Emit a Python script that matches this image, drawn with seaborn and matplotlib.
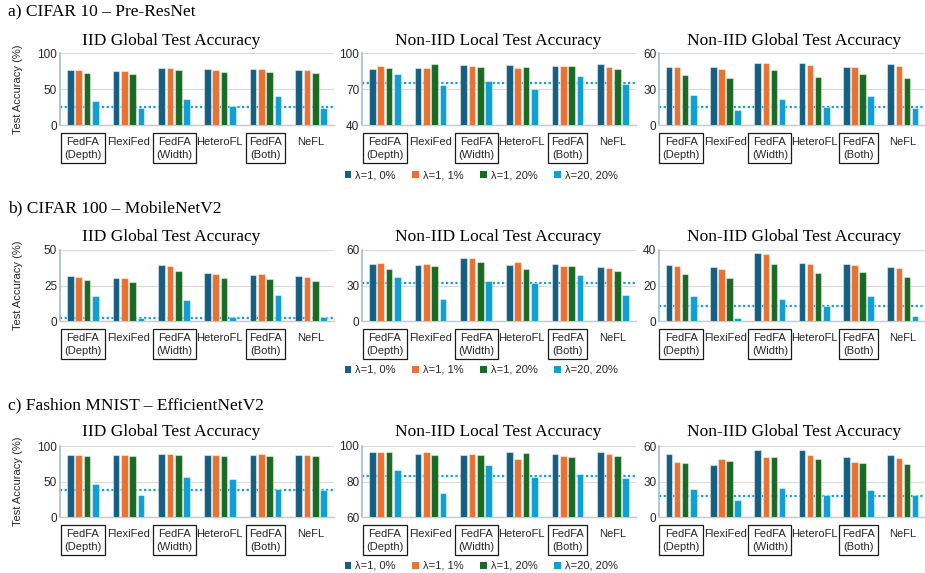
import matplotlib
matplotlib.use("Agg")
import matplotlib.pyplot as plt
from matplotlib.patches import Patch
from matplotlib.ticker import AutoMinorLocator
import seaborn as sns
import pandas as pd

# ---------------- data ----------------
categories = ["FedFA\n(Depth)", "FlexiFed", "FedFA\n(Width)", "HeteroFL", "FedFA\n(Both)", "NeFL"]
boxed = ["FedFA\n(Depth)", "FedFA\n(Width)", "FedFA\n(Both)"]
series = ["λ=1, 0%", "λ=1, 1%", "λ=1, 20%", "λ=20, 20%"]
colors = ["#156082", "#E97132", "#196B24", "#0F9ED5"]

row_titles = ["a) CIFAR 10 – Pre-ResNet", "b) CIFAR 100 – MobileNetV2", "c) Fashion MNIST – EfficientNetV2"]
panel_titles = ["IID Global Test Accuracy", "Non-IID Local Test Accuracy", "Non-IID Global Test Accuracy"]
y_label = "Test Accuracy (%)"

# rows: series (λ=1 0%, λ=1 1%, λ=1 20%, λ=20 20%), columns: categories
a_iid = [[76.5, 75.6, 79.3, 77.9, 77.4, 77.0],
         [76.5, 75.6, 79.3, 76.5, 77.4, 77.0],
         [72.8, 71.4, 76.5, 73.3, 74.2, 71.9],
         [33.6, 24.0, 35.5, 25.8, 40.6, 23.0]]
a_local = [[86.7, 87.8, 90.3, 89.7, 89.4, 90.6],
           [88.9, 87.8, 89.4, 87.8, 89.4, 88.3],
           [87.8, 90.8, 88.6, 88.6, 89.4, 87.0],
           [82.5, 73.4, 77.0, 70.4, 81.2, 74.0]]
a_global = [[48.6, 48.3, 51.7, 51.4, 48.6, 50.8],
            [48.6, 46.7, 51.4, 50.3, 48.1, 49.4],
            [41.4, 39.5, 46.1, 40.3, 42.5, 39.2],
            [25.4, 12.4, 21.3, 14.6, 24.3, 14.4]]
b_iid = [[31.5, 30.5, 39.2, 33.6, 32.4, 31.7],
         [31.0, 30.5, 38.7, 33.1, 32.9, 31.2],
         [28.9, 27.5, 35.2, 30.0, 29.6, 27.9],
         [17.4, 1.9, 14.6, 2.6, 18.3, 2.6]]
b_local = [[48.2, 47.3, 53.2, 47.3, 48.2, 45.6],
           [48.7, 48.2, 53.0, 49.6, 46.5, 44.5],
           [44.2, 46.2, 50.1, 43.7, 46.2, 42.3],
           [37.5, 18.6, 34.1, 31.8, 38.9, 22.0]]
b_global = [[31.3, 30.2, 38.1, 32.6, 31.9, 30.2],
            [31.0, 29.5, 37.5, 32.1, 31.5, 29.8],
            [26.3, 24.2, 32.3, 26.8, 27.6, 25.0],
            [14.0, 1.5, 12.4, 8.4, 14.0, 2.8]]
c_iid = [[87.3, 87.3, 88.3, 86.9, 87.8, 87.3],
         [87.3, 87.3, 88.3, 86.9, 88.3, 87.3],
         [86.4, 86.4, 86.9, 85.4, 86.4, 85.9],
         [46.0, 31.5, 56.3, 53.0, 39.0, 38.5]]
c_local = [[96.4, 95.5, 95.1, 96.6, 95.5, 96.4],
           [96.4, 96.8, 95.7, 92.5, 94.6, 95.5],
           [96.8, 95.1, 95.1, 95.9, 94.0, 94.6],
           [86.3, 73.3, 89.3, 82.5, 84.4, 81.8]]
c_global = [[53.0, 43.7, 56.9, 56.9, 51.0, 52.7],
            [46.8, 49.0, 50.4, 52.1, 46.8, 49.6],
            [45.6, 47.3, 50.4, 49.3, 45.4, 44.5],
            [23.9, 14.6, 24.8, 18.3, 23.1, 18.3]]

panel_values = [[a_iid, a_local, a_global],
                [b_iid, b_local, b_global],
                [c_iid, c_local, c_global]]
baselines = [[25.3, 75.4, 14.6],
             [2.1, 31.8, 8.3],
             [37.6, 82.9, 17.7]]
y_ticks = [[[0, 50, 100], [40, 70, 100], [0, 30, 60]],
           [[0, 25, 50], [0, 30, 60], [0, 20, 40]],
           [[0, 50, 100], [60, 80, 100], [0, 30, 60]]]

# ---------------- style ----------------
sns.set_style("white")
plt.rcParams["font.family"] = ["Liberation Sans", "DejaVu Sans"]
SERIF = ["Liberation Serif", "DejaVu Serif"]

W, H = 925, 573
fig = plt.figure(figsize=(W / 100, H / 100), dpi=100)

col_left = [60, 362, 659]
col_width = [274, 274, 266]
row_top = [53, 250, 446]
row_bottom = [125, 321, 517]
row_title_y = [12, 208, 405]
panel_title_y = [41, 237, 432]
panel_title_x = [171, 498, 794]
legend_y = [175, 370, 566]

for r in range(3):
    fig.text(8 / W, 1 - row_title_y[r] / H, row_titles[r], family=SERIF,
             fontsize=12.5, ha="left", va="center", color="black")
    for c in range(3):
        l, w = col_left[c], col_width[c]
        t, b = row_top[r], row_bottom[r]
        ax = fig.add_axes([l / W, 1 - b / H, w / W, (b - t) / H])
        vals = panel_values[r][c]
        rows = []
        for si, s in enumerate(series):
            for ci, cat in enumerate(categories):
                rows.append({"Method": cat, "Setting": s, "Accuracy": vals[si][ci]})
        df = pd.DataFrame(rows)
        sns.barplot(data=df, x="Method", y="Accuracy", hue="Setting",
                    order=categories, hue_order=series, palette=colors,
                    saturation=1, width=0.73, gap=0.2, legend=False,
                    edgecolor=(1, 1, 1, 0.45), linewidth=0.8, ax=ax, zorder=3)
        ticks = y_ticks[r][c]
        ax.set_ylim(ticks[0], ticks[-1])
        ax.set_xlim(-0.5, len(categories) - 0.5)
        ax.set_yticks(ticks)
        ax.yaxis.set_minor_locator(AutoMinorLocator(5))
        ax.yaxis.grid(True, which="major", color="#d9d9d9", lw=0.8, zorder=0)
        ax.set_axisbelow(True)
        ax.axhline(baselines[r][c], color="#0F9ED5", lw=1.6,
                   ls=(0, (1, 1.1)), zorder=2)
        for side in ["top", "right"]:
            ax.spines[side].set_visible(False)
        ax.spines["left"].set_color("#9fbfd4")
        ax.spines["left"].set_linewidth(1.2)
        ax.spines["bottom"].set_color("#c8c8c8")
        ax.spines["bottom"].set_linewidth(1.0)
        ax.tick_params(axis="y", which="both", direction="in", length=3,
                       width=1, color="#156082", pad=2, labelsize=8.5,
                       labelcolor="#262626")
        ax.tick_params(axis="x", length=0, pad=8.5, labelsize=8,
                       labelcolor="#262626")
        ax.set_xlabel("")
        ax.set_ylabel("")
        for lbl in ax.get_xticklabels():
            lbl.set_linespacing(1.35)
            if lbl.get_text() in boxed:
                lbl.set_bbox(dict(boxstyle="square,pad=0.3", fc="white",
                                  ec="#1a1a1a", lw=0.9))
        if c == 0:
            ax.set_ylabel(y_label, fontsize=8, color="#262626")
            ax.yaxis.set_label_coords(-0.135, 0.5)
        fig.text(panel_title_x[c] / W, 1 - panel_title_y[r] / H, panel_titles[c],
                 family=SERIF, fontsize=12.5, ha="center", va="center",
                 color="black")

    handles = [Patch(facecolor=col, edgecolor="none") for col in colors]
    fig.legend(handles, series, loc="center", ncol=4,
               bbox_to_anchor=(481 / W, 1 - legend_y[r] / H), frameon=False,
               fontsize=8, handlelength=0.6, handleheight=0.6,
               handletextpad=0.35, columnspacing=1.5, borderpad=0,
               labelcolor="#262626")

fig.savefig("out.png", dpi=100)
